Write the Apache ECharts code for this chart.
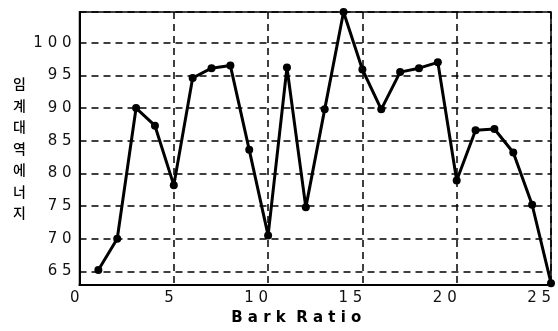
<!DOCTYPE html>
<html>
<head>
<meta charset="utf-8">
<script src="https://cdn.jsdelivr.net/npm/echarts@6/dist/echarts.min.js"></script>
<style>
  html, body { margin: 0; padding: 0; background: #fff; }
  #chart { width: 558px; height: 331px; }
</style>
</head>
<body>
<div id="chart"></div>
<script>
// Critical-band energy per Bark ratio
const barkRatio = [1, 2, 3, 4, 5, 6, 7, 8, 9, 10, 11, 12, 13, 14, 15, 16, 17, 18, 19, 20, 21, 22, 23, 24, 25];
const energy = [65.2, 70.0, 90.0, 87.3, 78.2, 94.6, 96.1, 96.5, 83.6, 70.5, 96.2, 74.8, 89.8,
                104.7, 95.9, 89.8, 95.5, 96.1, 97.0, 78.9, 86.6, 86.8, 83.2, 75.2, 63.2];
const yTicks = [65, 70, 75, 80, 85, 90, 95, 100];
const xTicks = [0, 5, 10, 15, 20, 25];
const yName = '임계대역에너지';
const xName = 'Bark Ratio';

// letter-spaced text: one space between letters, two between words
const spaced = s => String(s).split(' ').map(w => w.split('').join(' ')).join('  ');

const chart = echarts.init(document.getElementById('chart'), null, { renderer: 'canvas' });

const dash = { color: '#000', width: 1.5, type: [7, 5] };

chart.setOption({
  animation: false,
  backgroundColor: '#fff',
  grid: {
    left: 79.5, top: 12, right: 7, bottom: 41,
    show: true, borderColor: '#000', borderWidth: 1.5
  },
  xAxis: {
    type: 'value',
    min: 0, max: 25, interval: 5,
    name: spaced(xName),
    nameLocation: 'middle',
    nameGap: 25,
    nameTextStyle: {
      fontFamily: 'DejaVu Sans', fontWeight: 'bold', fontSize: 15, color: '#000',
      padding: [0, 38, 0, 0]
    },
    axisLine: { lineStyle: { color: '#000', width: 2 } },
    axisTick: { show: false },
    splitLine: { show: true, lineStyle: dash },
    axisLabel: {
      fontFamily: 'DejaVu Sans', fontSize: 15, color: '#111', margin: 6, align: 'right',
      formatter: v => xTicks.includes(v) ? spaced(v) : ''
    }
  },
  yAxis: {
    type: 'value',
    min: 62.9, max: 104.7, splitNumber: 8,
    name: yName.split('').join('\n'),
    nameLocation: 'middle',
    nameRotate: 0,
    nameGap: 60,
    nameTextStyle: {
      fontFamily: 'Noto Sans CJK KR', fontSize: 14, fontWeight: 500, color: '#000',
      lineHeight: 21.5, align: 'center', verticalAlign: 'middle'
    },
    axisLine: { show: true, lineStyle: { color: '#000', width: 2 } },
    axisTick: { show: false },
    splitLine: { show: true, lineStyle: dash },
    axisLabel: {
      fontFamily: 'DejaVu Sans', fontSize: 15, color: '#111', margin: 8,
      formatter: v => yTicks.includes(v) ? spaced(v) : ''
    }
  },
  series: [{
    type: 'line',
    data: barkRatio.map((b, i) => [b, energy[i]]),
    clip: false,
    symbol: 'circle',
    symbolSize: 8,
    lineStyle: { color: '#000', width: 3 },
    itemStyle: { color: '#000' }
  }]
});
</script>
</body>
</html>
